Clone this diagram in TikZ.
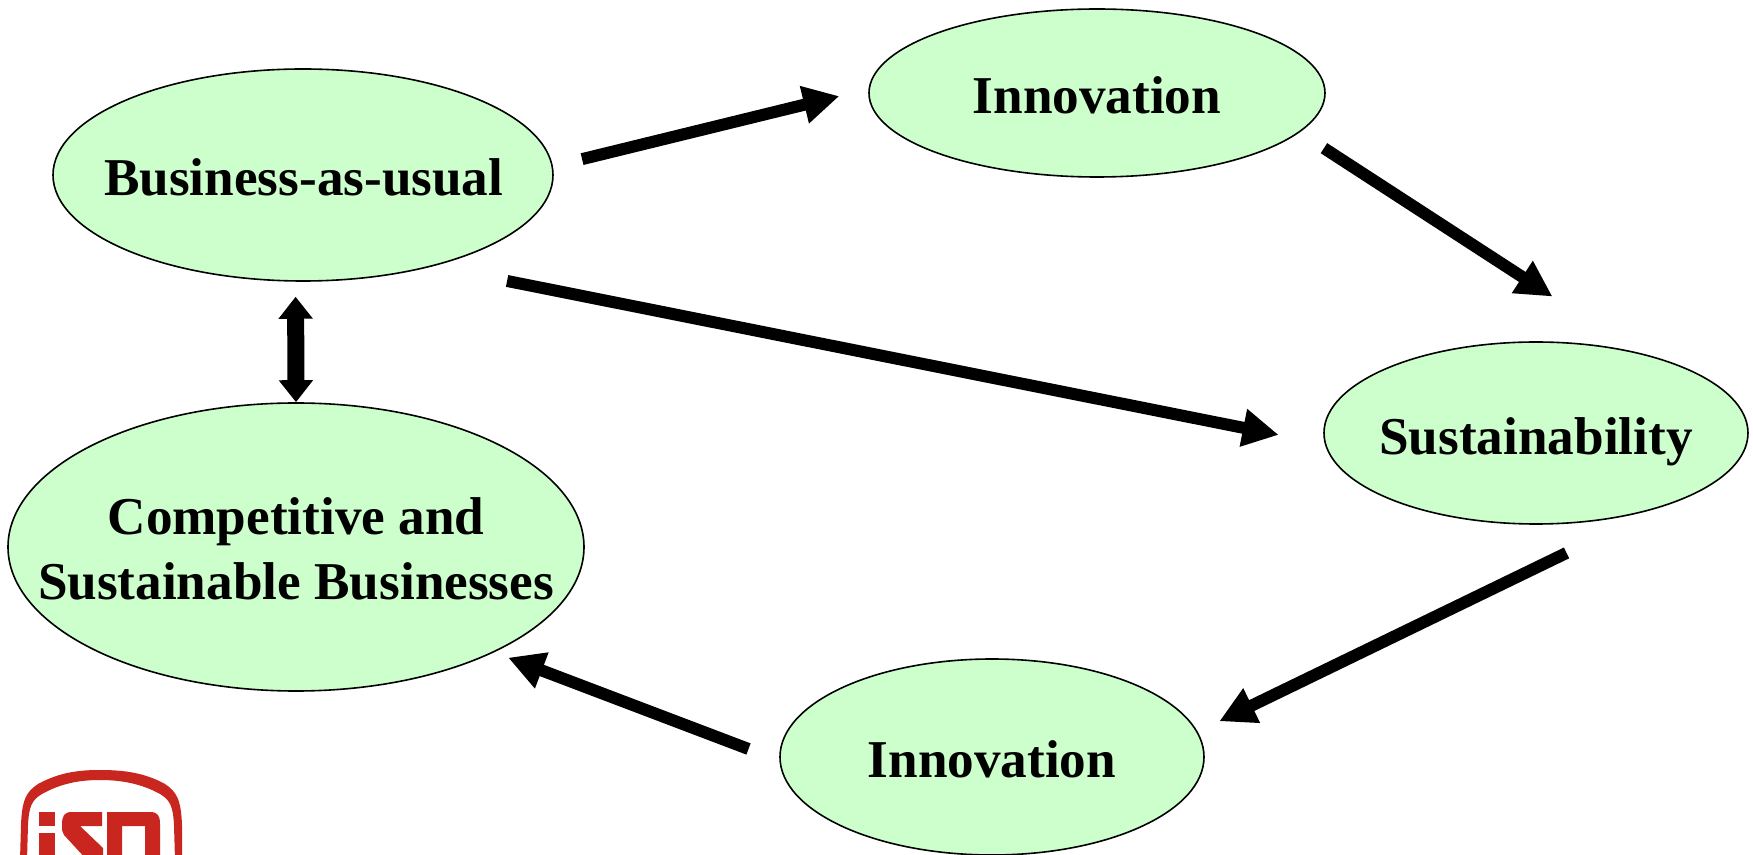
\documentclass[tikz,border=0pt]{standalone}
\usepackage{fontspec}
\setmainfont{Liberation Serif}
\usetikzlibrary{shapes.geometric,arrows.meta}
\tikzset{>={Triangle[width=18pt,length=18pt]}}
\definecolor{bubble_green}{RGB}{204, 255, 204}
\definecolor{iso_red}{RGB}{200, 38, 30}

\begin{document}
\begin{tikzpicture}[
		x=0.5pt,y=-0.5pt,
		every node/.style={font=\bfseries\fontsize{26.6}{32.4}\selectfont},
		every label/.style={align=center,inner sep=0pt,yshift=-1.1pt},
		bubble/.style={draw,ellipse,fill=bubble_green,line width=0.8pt,inner sep=0pt},
		flow/.style={->,line width=6pt},
	]
	\clip (0,0) rectangle (1753,855);

	% the five bubbles
	\node[bubble,minimum width=250pt,minimum height=106pt,name=business,label={[xshift=0.4pt]center:Business-as-usual}] at (303,175) {};
	\node[bubble,minimum width=228pt,minimum height=84pt,name=innovation1,label={center:Innovation}] at (1097,93) {};
	\node[bubble,minimum width=212pt,minimum height=91pt,name=sustainability,label={[yshift=-3.4pt]center:Sustainability}] at (1536,433) {};
	\node[bubble,minimum width=288pt,minimum height=144pt,name=competitive,label={center:Competitive and\\Sustainable Businesses}] at (296,547) {};
	\node[bubble,minimum width=212pt,minimum height=98pt,name=innovation2,label={center:Innovation}] at (992,757) {};

	% arrows stop short of the bubbles
	\draw[flow,shorten <=15pt,shorten >=15pt] (business.2) -- (innovation1.179);
	\draw[flow,shorten <=14.5pt,shorten >=51.5pt] (innovation1.-11) -- (sustainability.38);
	\draw[flow,shorten <=37.6pt,shorten >=23.5pt] (business.-35.2) -- (sustainability.183.4);
	\draw[flow,shorten <=52pt,shorten >=12pt] (sustainability.-31.3) -- (innovation2.7.1);
	\draw[flow,shorten <=16.5pt,shorten >=7.5pt] (innovation2.181.6) -- (competitive.-28.8);
	\draw[<->,>={Triangle[width=16.5pt,length=11pt]},line width=8.5pt,shorten <=7.5pt] (business.266) -- (competitive.north);

	% logo, cut off by the lower edge
	\fill[iso_red] (20,860) -- (21,825) .. controls (22,800) and (26,792) .. (38,784)
		.. controls (60,772) and (80,770) .. (100,770)
		.. controls (125,770) and (145,773) .. (165,784)
		.. controls (177,792) and (181,800) .. (182,825) -- (182,860) -- (175,860) -- (174,825)
		.. controls (173,806) and (170,800) .. (160,794)
		.. controls (142,784) and (122,780) .. (100,780)
		.. controls (78,780) and (60,784) .. (42,794)
		.. controls (32,800) and (29,806) .. (28,825) -- (27,860) -- cycle;
	\fill[iso_red] (39,812) rectangle (55,826);
	\fill[iso_red] (39,833) rectangle (55,860);
	\fill[iso_red] (62,825) .. controls (62,816) and (64,812) .. (72,812) -- (102,812) -- (102,826) -- (80,826)
		-- (103,848) -- (103,860) -- (87,860) -- (64,835) .. controls (62,832) and (62,830) .. (62,825) -- cycle;
	\fill[iso_red] (107,860) -- (107,812) -- (150,812) .. controls (158,812) and (160,816) .. (160,824) -- (160,860) -- (145,860)
		-- (145,826) -- (122,826) -- (122,860) -- cycle;

\end{tikzpicture}
\end{document}
